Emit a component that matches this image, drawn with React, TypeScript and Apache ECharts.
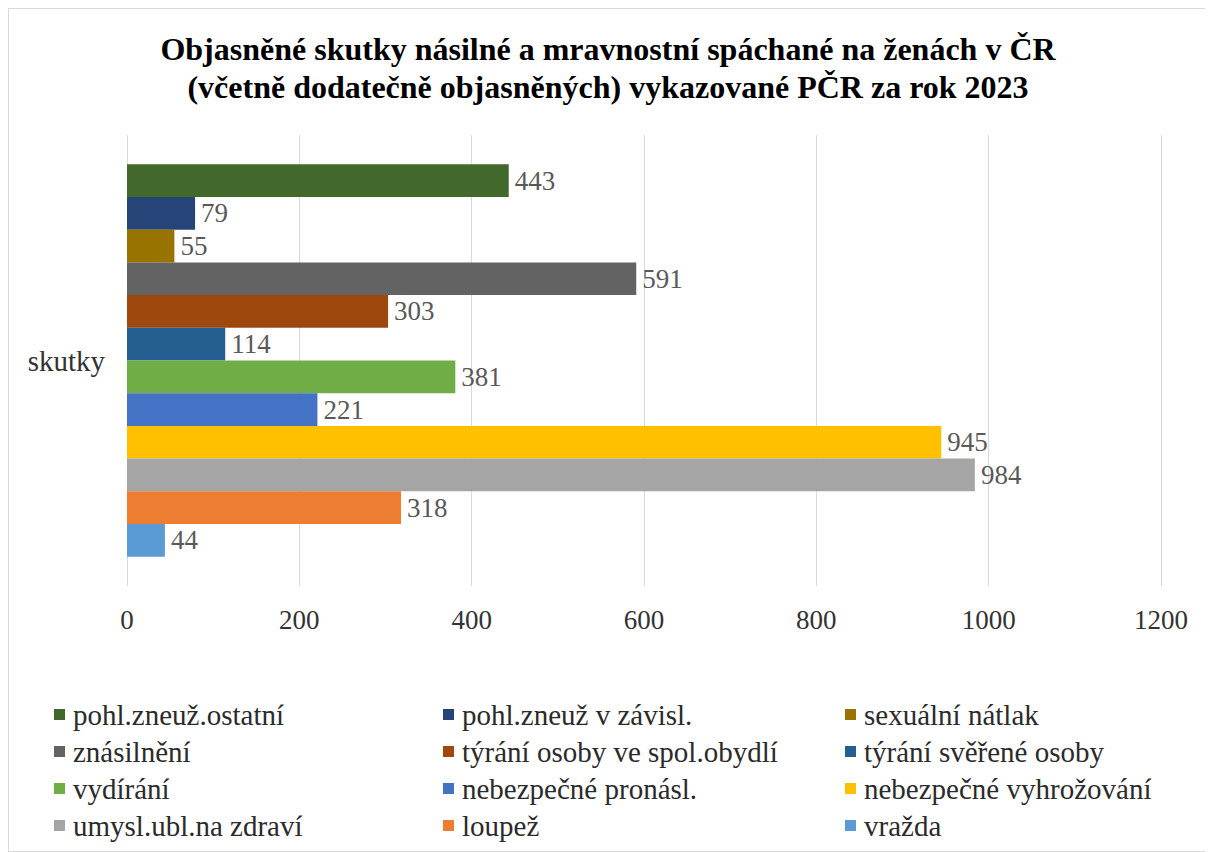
import React, { useEffect, useRef } from "react";
import * as echarts from "echarts";

const categories = ["skutky"];
const seriesNames = [
  "pohl.zneuž.ostatní",
  "pohl.zneuž v závisl.",
  "sexuální nátlak",
  "znásilnění",
  "týrání osoby ve spol.obydlí",
  "týrání svěřené osoby",
  "vydírání",
  "nebezpečné pronásl.",
  "nebezpečné vyhrožování",
  "umysl.ubl.na zdraví",
  "loupež",
  "vražda",
];
const seriesValues = [443, 79, 55, 591, 303, 114, 381, 221, 945, 984, 318, 44];
const seriesColors = [
  "#43682B",
  "#264478",
  "#997300",
  "#636363",
  "#9E480E",
  "#255E91",
  "#70AD47",
  "#4472C4",
  "#FFC000",
  "#A5A5A5",
  "#ED7D31",
  "#5B9BD5",
];
const titleLines = [
  "Objasněné skutky násilné a mravnostní spáchané na ženách v ČR",
  "(včetně dodatečně objasněných) vykazované PČR za rok 2023",
];

const FONT = "'Liberation Serif', 'Times New Roman', serif";

export default function App() {
  const ref = useRef<HTMLDivElement>(null);
  useEffect(() => {
    if (!ref.current) return;
    const chart = echarts.init(ref.current, null, { renderer: "svg" });
    const legendCols = [0, 1, 2].map((c) => ({
      show: true,
      orient: "vertical" as const,
      left: [40, 429, 831][c],
      top: 686,
      itemWidth: 11,
      itemHeight: 11,
      itemGap: 8,
      icon: "rect",
      data: seriesNames.filter((_, i) => i % 3 === c),
      textStyle: {
        fontFamily: FONT,
        fontSize: 29,
        lineHeight: 29,
        color: "#2b2b2b",
        padding: [0, 0, 0, 3],
      },
    }));
    chart.setOption({
      animation: false,
      textStyle: { fontFamily: FONT },
      title: {
        text: titleLines.join("\n"),
        left: "center",
        top: 16,
        textStyle: {
          fontFamily: FONT,
          fontSize: 32,
          fontWeight: "bold",
          color: "#000",
          lineHeight: 38,
        },
      },
      legend: legendCols,
      grid: { left: 118, right: 46, top: 126, bottom: 265, containLabel: false },
      xAxis: {
        type: "value",
        min: 0,
        max: 1200,
        interval: 200,
        axisLine: { show: false },
        axisTick: { show: false },
        splitLine: { lineStyle: { color: "#D9D9D9", width: 1 } },
        axisLabel: {
          fontFamily: FONT,
          fontSize: 27,
          color: "#333333",
          margin: 20,
          formatter: (v: number) => String(v),
        },
      },
      yAxis: {
        type: "category",
        data: categories,
        inverse: true,
        axisLine: { show: false },
        axisTick: { show: false },
        axisLabel: { fontFamily: FONT, fontSize: 29, color: "#333333", margin: 22 },
      },
      series: seriesNames.map((name, i) => ({
        type: "bar",
        name,
        data: [seriesValues[i]],
        itemStyle: { color: seriesColors[i] },
        barGap: "0%",
        barCategoryGap: "13%",
        label: {
          show: true,
          position: "right",
          distance: 6,
          fontFamily: FONT,
          fontSize: 27,
          color: "#595959",
        },
      })),
    });
    return () => chart.dispose();
  }, []);
  return (
    <div
      ref={ref}
      style={{
        width: 1200,
        height: 844,
        border: "1px solid #D9D9D9",
        boxSizing: "border-box",
        background: "#fff",
      }}
    />
  );
}
